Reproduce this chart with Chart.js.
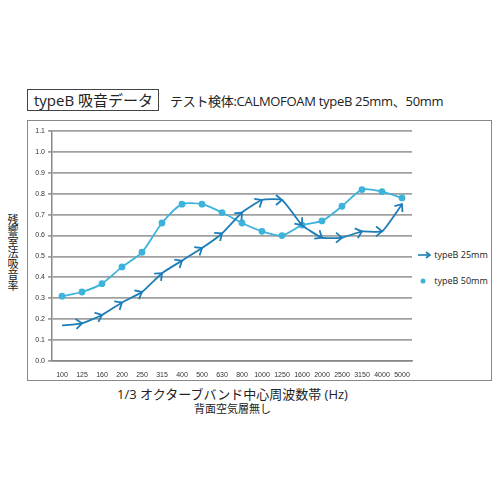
<!DOCTYPE html>
<html><head><meta charset="utf-8">
<script src="https://cdn.jsdelivr.net/npm/chart.js@4"></script>
<style>
body{margin:0;width:500px;height:500px;background:#fff;position:relative;font-family:"Open Sans","Noto Sans CJK JP",sans-serif;color:#222}
.abs{position:absolute;white-space:nowrap}
</style></head><body>
<div class="abs" style="left:27px;top:89px;width:132px;height:22px;border:1.5px solid #444;box-sizing:border-box;font-size:15px;line-height:20px;padding-left:6px">typeB 吸音データ</div>
<div class="abs" style="left:170px;top:90px;font-size:13px;line-height:22px;letter-spacing:-0.3px">テスト検体:CALMOFOAM typeB 25mm、50mm</div>
<div class="abs" style="left:27px;top:120px;width:465px;height:261px;border:1.5px solid #888;box-sizing:border-box"></div>
<div class="abs" style="left:5px;top:214px;font-size:11px;writing-mode:vertical-rl;line-height:14px">残響室法吸音率</div>
<div class="abs" style="left:0;width:465px;top:384px;font-size:13px;text-align:center">1/3 オクターブバンド中心周波数帯 (Hz)</div>
<div class="abs" style="left:0;width:465px;top:400px;font-size:11px;text-align:center">背面空気層無し</div>
<div class="abs" style="left:418px;top:249px;font-size:9px;line-height:12px;color:#222">
 <div style="display:flex;align-items:center"><svg width="14" height="10"><line x1="0" y1="5" x2="12" y2="5" stroke="#1d7db8" stroke-width="1.6"/><polyline points="8,2 12,5 8,8" fill="none" stroke="#1d7db8" stroke-width="1.6"/></svg>&nbsp;typeB 25mm</div>
 <div style="display:flex;align-items:center;margin-top:14px"><svg width="14" height="10"><circle cx="5" cy="5" r="2.5" fill="#3db3dc"/></svg>&nbsp;typeB 50mm</div>
</div>
<div class="abs" style="left:28px;top:121px;width:390px;height:258px"><canvas id="c"></canvas></div>
<script>
const categories=["100","125","160","200","250","315","400","500","630","800","1000","1250","1600","2000","2500","3150","4000","5000"];
const typeB25=[0.17,0.18,0.22,0.28,0.33,0.42,0.48,0.54,0.61,0.71,0.77,0.77,0.65,0.59,0.59,0.62,0.62,0.75];
const typeB50=[0.31,0.33,0.37,0.45,0.52,0.66,0.75,0.75,0.71,0.66,0.62,0.60,0.65,0.67,0.74,0.82,0.81,0.78];
const yTicks=[0,0.1,0.2,0.3,0.4,0.5,0.6,0.7,0.8,0.9,1.0,1.1];
const arrows={id:'arrows',afterDatasetsDraw(ch){
 const pts=ch.getDatasetMeta(0).data;const ctx=ch.ctx;ctx.save();
 ctx.strokeStyle='#1d7db8';ctx.lineWidth=1.8;
 for(let i=1;i<pts.length;i++){const a=pts[i-1],b=pts[i];const ang=Math.atan2(b.y-a.y,b.x-a.x);
  ctx.save();ctx.translate(b.x,b.y);ctx.rotate(ang);ctx.beginPath();ctx.moveTo(-6,-5);ctx.lineTo(0,0);ctx.lineTo(-6,5);ctx.stroke();ctx.restore();}
 ctx.restore();}};
new Chart(document.getElementById('c'),{type:'line',
 data:{labels:categories,datasets:[
  {label:'typeB 25mm',data:typeB25,borderColor:'#1d7db8',borderWidth:1.8,pointRadius:0,tension:0.15},
  {label:'typeB 50mm',data:typeB50,borderColor:'#3db3dc',backgroundColor:'#3db3dc',borderWidth:1.8,pointRadius:2.5,tension:0.25}]},
 options:{responsive:true,maintainAspectRatio:false,animation:false,
  layout:{padding:{top:10,right:6,left:0,bottom:0}},
  plugins:{legend:{display:false},tooltip:{enabled:false}},
  scales:{
   x:{offset:true,grid:{display:false,drawTicks:true},border:{color:'#888',width:1.5},
      ticks:{font:{size:7},color:'#333',maxRotation:0,autoSkip:false,padding:2},afterFit(s){s.height=18;}},
   y:{min:0,max:1.1,afterBuildTicks(s){s.ticks=yTicks.map(v=>({value:v}));},
      grid:{color:'#a0a0a0',lineWidth:1.8,tickLength:4},border:{color:'#888',width:1.5},
      ticks:{font:{size:7},color:'#333',padding:3,callback:v=>v===1.1?'1.1':v.toFixed(1)},afterFit(s){s.width=24;}}
  }},
 plugins:[arrows]});
</script></body></html>
